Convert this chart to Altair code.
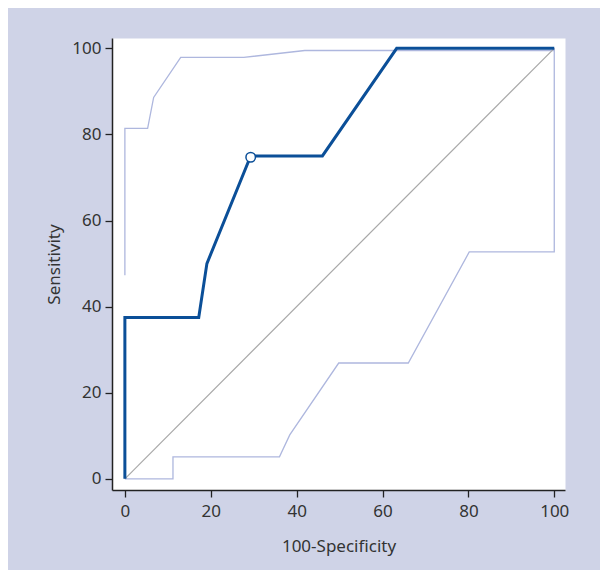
import altair as alt
import pandas as pd

# ROC curve (100-Specificity vs Sensitivity)
roc_x = [0, 0, 17.2, 19.1, 29.3, 46.0, 63.3, 100]
roc_y = [0, 37.5, 37.5, 50, 75, 75, 100, 100]
# upper confidence bound
upper_x = [0, 0, 5.3, 6.7, 13.0, 27.7, 41.9, 100]
upper_y = [47.3, 81.4, 81.4, 88.6, 97.9, 97.9, 99.5, 99.5]
# lower confidence bound
lower_x = [0, 11.2, 11.2, 36.0, 38.4, 49.8, 66.0, 80.2, 100, 100]
lower_y = [0, 0, 5.1, 5.1, 10.2, 26.9, 26.9, 52.7, 52.7, 100]
# reference diagonal
diag_x = [0, 100]
diag_y = [0, 100]
# optimal cut-off
cut_x = [29.3]
cut_y = [74.7]

ticks = [0, 20, 40, 60, 80, 100]


def frame(xs, ys):
    return pd.DataFrame({"x": xs, "y": ys, "i": list(range(len(xs)))})


X = alt.X("x:Q", title="100-Specificity",
          scale=alt.Scale(domain=[-3, 102.5], nice=False, zero=False),
          axis=alt.Axis(values=ticks))
Y = alt.Y("y:Q", title="Sensitivity",
          scale=alt.Scale(domain=[-2.6, 102.4], nice=False, zero=False),
          axis=alt.Axis(values=ticks))


def line(xs, ys, color, width):
    return alt.Chart(frame(xs, ys)).mark_line(color=color, strokeWidth=width).encode(
        x=X, y=Y, order="i:Q")


light = "#aeb7de"
lower = line(lower_x, lower_y, light, 1.3)
upper = line(upper_x, upper_y, light, 1.3)
diag = line(diag_x, diag_y, "#a8a8a8", 1.2)
roc = line(roc_x, roc_y, "#0b4f98", 3)
pt = alt.Chart(frame(cut_x, cut_y)).mark_point(
    filled=True, fill="white", stroke="#0b4f98", strokeWidth=1.5, size=90, opacity=1
).encode(x=X, y=Y)

chart = alt.layer(lower, upper, diag, roc, pt).properties(
    width=453, height=452,
    autosize=alt.AutoSizeParams(type="none"),
    padding={"left": 104, "top": 30, "right": 35, "bottom": 80},
).configure(
    background="#cfd3e7",
).configure_view(
    fill="white", stroke="transparent",
).configure_axis(
    grid=False,
    domainColor="#222222", domainWidth=1.5,
    tickColor="#222222", tickSize=7, tickWidth=1.3,
    labelColor="#333333", labelFont="Noto Sans", labelFontSize=17,
    titleColor="#333333", titleFont="Noto Sans", titleFontSize=17, titleFontWeight="normal",
).configure_axisX(labelPadding=6, titlePadding=19).configure_axisY(labelPadding=4, titlePadding=8)

chart.save("out.html", embed_options={"renderer": "svg", "actions": False})
